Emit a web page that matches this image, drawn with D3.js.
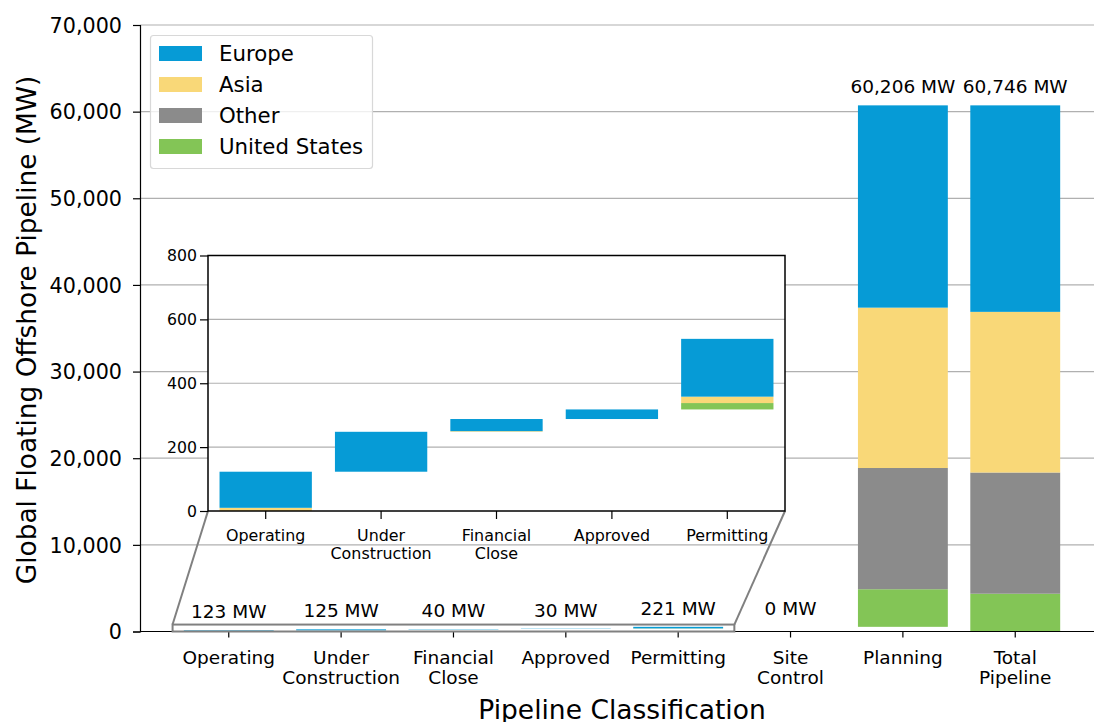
<!DOCTYPE html>
<html><head><meta charset="utf-8">
<script src="https://cdn.jsdelivr.net/npm/d3@7"></script>
<style>
body{margin:0;background:#fff;}
text{font-family:"DejaVu Sans",sans-serif;fill:#000;}
</style></head>
<body><svg id="c" width="1094" height="722"></svg>
<script>
// ---- data ----
const categories = ["Operating","Under\nConstruction","Financial\nClose","Approved","Permitting","Site\nControl","Planning","Total\nPipeline"];
const regions = ["United States","Other","Asia","Europe"];          // stacking order bottom -> top
const legendOrder = ["Europe","Asia","Other","United States"];
const colors = {"Europe":"#069bd6","Asia":"#f9d878","Other":"#8b8b8b","United States":"#83c556"};
// per-stage values (MW) for the first 7 stages
const usVals     = [0,   0,   0,  0, 20, 0, 4340];
const otherVals  = [0,   0,   0,  0,  0, 0, 13990];
const asiaVals   = [10,  0,   2,  0, 20, 0, 18510];
const europeVals = [113, 125, 38, 30, 181, 0, 23346];
const stageLabels = ["123 MW","125 MW","40 MW","30 MW","221 MW","0 MW","60,206 MW","60,746 MW"];
const yTicks = [0,10000,20000,30000,40000,50000,60000,70000];
const insetTicks = [0,200,400,600,800];
const insetCats = ["Operating","Under\nConstruction","Financial\nClose","Approved","Permitting"];

const vals = {"United States":usVals,"Other":otherVals,"Asia":asiaVals,"Europe":europeVals};

// build waterfall segments
const segs = [];
let base = 0;
const tops = [];
for (let i=0;i<7;i++){
  let b = base;
  regions.forEach(r=>{ const v=vals[r][i]; segs.push({i, r, y0:b, y1:b+v}); b+=v; });
  tops.push(b); base = b;
}
// total pipeline bar = sum over stages per region
let tb = 0;
regions.forEach(r=>{ const v=d3.sum(vals[r]); segs.push({i:7, r, y0:tb, y1:tb+v}); tb+=v; });
tops.push(tb);

const svg = d3.select("#c");
const x = d3.scaleLinear().domain([-0.79,7.79]).range([140,1104]);
const y = d3.scaleLinear().domain([0,70000]).range([631.5,25]);
const bw = (x(0.8)-x(0));

// grid
svg.append("g").selectAll("line").data(yTicks.slice(1)).join("line")
  .attr("x1",140).attr("x2",1094).attr("y1",d=>y(d)).attr("y2",d=>y(d))
  .attr("stroke","#b0b0b0").attr("stroke-width",1.2);

// bars
svg.append("g").selectAll("rect").data(segs).join("rect")
  .attr("x",d=>x(d.i)-bw/2).attr("width",bw)
  .attr("y",d=>y(d.y1)).attr("height",d=>Math.max(0,y(d.y0)-y(d.y1)))
  .attr("fill",d=>colors[d.r]);

// value labels
svg.append("g").selectAll("text").data(stageLabels).join("text")
  .attr("x",(d,i)=>x(i)).attr("y",(d,i)=>y(tops[i])-12)
  .attr("text-anchor","middle").attr("font-size",18.5).text(d=>d);

// axes
const yAxis = d3.axisLeft(y).tickValues(yTicks).tickFormat(d3.format(",")).tickSize(7).tickPadding(11);
const gy = svg.append("g").attr("transform","translate(140,0)").call(yAxis);
gy.selectAll("text").attr("font-size",20.7).attr("dy","0.35em");
gy.select(".domain").attr("stroke","#000").attr("stroke-width",1.2);
gy.selectAll(".tick line").attr("stroke","#000").attr("stroke-width",1.2);

const gx = svg.append("g").attr("transform","translate(0,631.5)");
gx.append("line").attr("x1",140).attr("x2",1104).attr("stroke","#000").attr("stroke-width",1.2);
const xt = gx.selectAll("g").data(categories).join("g").attr("transform",(d,i)=>`translate(${x(i)},0)`);
xt.append("line").attr("y2",6).attr("stroke","#000").attr("stroke-width",1.2);
xt.each(function(d){
  const t = d3.select(this).append("text").attr("text-anchor","middle").attr("font-size",18.5);
  d.split("\n").forEach((s,k)=>t.append("tspan").attr("x",0).attr("y",32+k*20.5).text(s));
});

svg.append("text").attr("x",622).attr("y",719).attr("text-anchor","middle").attr("font-size",26.5).text("Pipeline Classification");
svg.append("text").attr("transform","translate(36,330) rotate(-90)").attr("text-anchor","middle").attr("font-size",26.4).text("Global Floating Offshore Pipeline (MW)");

// legend
const lg = svg.append("g");
lg.append("rect").attr("x",150.5).attr("y",35.5).attr("width",222).attr("height",133).attr("rx",3)
  .attr("fill","#fff").attr("fill-opacity",0.8).attr("stroke","#d8d8d8").attr("stroke-width",1.2);
legendOrder.forEach((r,k)=>{
  lg.append("rect").attr("x",159).attr("y",46+k*31).attr("width",43).attr("height",15).attr("fill",colors[r]);
  lg.append("text").attr("x",219).attr("y",53.5+k*31).attr("dy","0.35em").attr("font-size",21.3).text(r);
});

// inset indicator rectangle + connectors
const ix = d3.scaleLinear().domain([-0.5,4.5]).range([208,785]);
const iy = d3.scaleLinear().domain([0,800]).range([511,255.5]);
svg.append("rect").attr("x",x(-0.5)).attr("y",y(800)).attr("width",x(4.5)-x(-0.5)).attr("height",y(0)-y(800))
  .attr("fill","none").attr("stroke","#808080").attr("stroke-width",2);
svg.append("line").attr("x1",x(-0.5)).attr("y1",y(800)).attr("x2",208).attr("y2",511).attr("stroke","#808080").attr("stroke-width",2);
svg.append("line").attr("x1",x(4.5)).attr("y1",y(800)).attr("x2",785).attr("y2",511).attr("stroke","#808080").attr("stroke-width",2);

// inset
const ig = svg.append("g");
ig.append("rect").attr("x",208).attr("y",255.5).attr("width",577).attr("height",255.5).attr("fill","#fff");
ig.selectAll("line.g").data(insetTicks.slice(1,4)).join("line").attr("class","g")
  .attr("x1",208).attr("x2",785).attr("y1",d=>iy(d)).attr("y2",d=>iy(d)).attr("stroke","#b0b0b0").attr("stroke-width",1.2);
const ibw = ix(0.8)-ix(0);
ig.selectAll("rect.b").data(segs.filter(s=>s.i<5 && s.y1>s.y0)).join("rect").attr("class","b")
  .attr("x",d=>ix(d.i)-ibw/2).attr("width",ibw)
  .attr("y",d=>iy(d.y1)).attr("height",d=>iy(d.y0)-iy(d.y1)).attr("fill",d=>colors[d.r]);
ig.append("rect").attr("x",208).attr("y",255.5).attr("width",577).attr("height",255.5)
  .attr("fill","none").attr("stroke","#000").attr("stroke-width",1.5);
const iya = ig.append("g").attr("transform","translate(208,0)")
  .call(d3.axisLeft(iy).tickValues(insetTicks).tickSize(8).tickPadding(3));
iya.select(".domain").remove();
iya.selectAll("text").attr("font-size",15.7);
iya.selectAll(".tick line").attr("stroke","#000").attr("stroke-width",1.2);
const ixt = ig.selectAll("g.xt").data(insetCats).join("g").attr("class","xt").attr("transform",(d,i)=>`translate(${ix(i)},511)`);
ixt.append("line").attr("y2",8).attr("stroke","#000").attr("stroke-width",1.2);
ixt.each(function(d){
  const t = d3.select(this).append("text").attr("text-anchor","middle").attr("font-size",15.9);
  d.split("\n").forEach((s,k)=>t.append("tspan").attr("x",0).attr("y",30+k*18).text(s));
});
</script></body></html>
